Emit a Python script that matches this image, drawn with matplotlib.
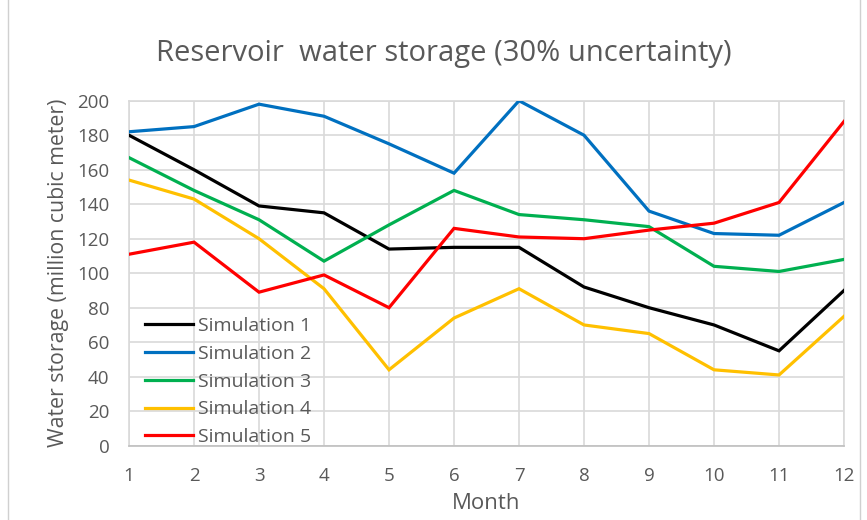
import matplotlib

matplotlib.use("Agg")
import matplotlib.pyplot as plt
from matplotlib.lines import Line2D

months = list(range(1, 13))
series_names = ["Simulation 1", "Simulation 2", "Simulation 3", "Simulation 4", "Simulation 5"]
sim1 = [180, 160, 139, 135, 114, 115, 115, 92, 80, 70, 55, 90]
sim2 = [182, 185, 198, 191, 175, 158, 200, 180, 136, 123, 122, 141]
sim3 = [167, 148, 131, 107, 128, 148, 134, 131, 127, 104, 101, 108]
sim4 = [154, 143, 120, 91, 44, 74, 91, 70, 65, 44, 41, 75]
sim5 = [111, 118, 89, 99, 80, 126, 121, 120, 125, 129, 141, 188]
y_ticks = list(range(0, 201, 20))

COLORS = ["#000000", "#0070C0", "#00B050", "#FFC000", "#FF0000"]
GRID = "#d9d9d9"
INK = "#595959"

plt.rcParams["font.family"] = ["Open Sans", "DejaVu Sans"]

fig = plt.figure(figsize=(8.67, 5.2), dpi=100)
ax = fig.add_axes([0.1488, 0.1429, 0.8247, 0.6634])

for vals, name, col in zip([sim1, sim2, sim3, sim4, sim5], series_names, COLORS):
    ax.plot(months, vals, color=col, linewidth=2.3, label=name, zorder=3,
            solid_joinstyle="miter")

ax.set_xlim(1, 12)
ax.set_ylim(0, 200)
ax.set_xticks(months)
ax.set_yticks(y_ticks)
ax.grid(True, color=GRID, linewidth=1.2, zorder=0)
ax.tick_params(length=0, labelsize=13.5, colors=INK)
ax.tick_params(axis="y", pad=14)
ax.tick_params(axis="x", pad=15)
for s in ("top", "right", "left"):
    ax.spines[s].set_color(GRID)
    ax.spines[s].set_linewidth(1.2)
ax.spines["bottom"].set_color("#bfbfbf")
ax.spines["bottom"].set_linewidth(1.2)

ax.set_xlabel("Month", fontsize=16, color=INK, labelpad=6)
ax.set_ylabel("Water storage (million cubic meter)", fontsize=15.3, color=INK, labelpad=6)

fig.text(0.512, 0.897, "Reservoir  water storage (30% uncertainty)", ha="center",
         va="center", fontsize=21, color=INK)

ax.legend(loc="upper left", bbox_to_anchor=(0.1672, 0.390), bbox_transform=fig.transFigure,
          frameon=False, fontsize=14, handlelength=2.45, handletextpad=0.26,
          labelspacing=0.5, labelcolor=INK, borderaxespad=0, borderpad=0)

# chart-area border (left and right edges)
for xf in (8 / 867, 860 / 867):
    fig.add_artist(Line2D([xf, xf], [0, 1], transform=fig.transFigure,
                          color="#d0d0d0", linewidth=1))

fig.savefig("out.png", dpi=100)
